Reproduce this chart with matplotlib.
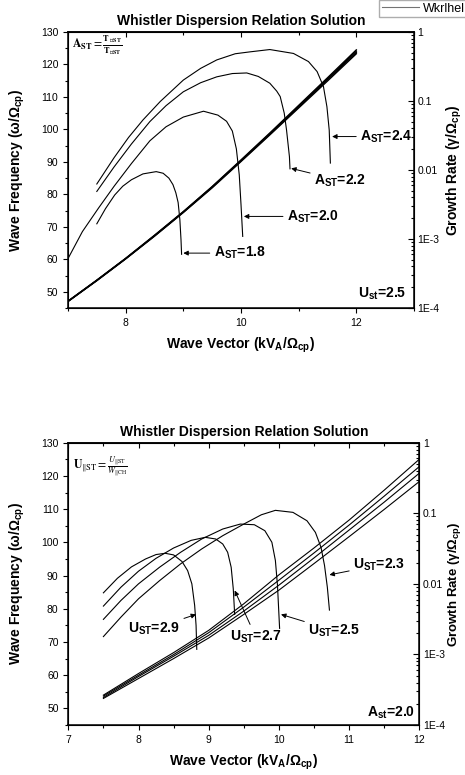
import matplotlib
matplotlib.use("Agg")
import matplotlib.pyplot as plt
from matplotlib.lines import Line2D
from matplotlib.ticker import MultipleLocator, LogLocator, FixedLocator, FixedFormatter, NullFormatter

plt.rcParams['font.family'] = ['Liberation Sans', 'DejaVu Sans']
plt.rcParams['mathtext.fontset'] = 'custom'
plt.rcParams['mathtext.rm'] = 'Liberation Sans'
plt.rcParams['mathtext.bf'] = 'Liberation Sans:bold'
plt.rcParams['mathtext.it'] = 'Liberation Sans:italic'

# ---------------- top panel data (A_ST scan, U_st = 2.5) ----------------
# wave frequency (left axis), four nearly identical curves
k_freq_top = [7.0, 7.5, 8.0, 8.5, 9.0, 9.5, 10.0, 10.5, 11.0, 11.5, 12.0]
w_top_18 = [47.0, 53.4, 60.1, 67.1, 74.4, 82.0, 90.1, 98.3, 106.6, 114.9, 123.3]
w_top_20 = [47.0, 53.5, 60.2, 67.2, 74.5, 82.2, 90.3, 98.5, 106.9, 115.3, 123.7]
w_top_22 = [47.1, 53.5, 60.2, 67.3, 74.6, 82.3, 90.4, 98.7, 107.1, 115.6, 124.1]
w_top_24 = [47.1, 53.6, 60.3, 67.4, 74.7, 82.4, 90.6, 98.9, 107.4, 115.9, 124.5]

# growth rate (right, log axis)
k_g24 = [7.5, 7.8, 8.05, 8.3, 8.6, 9.0, 9.3, 9.58, 9.9, 10.16, 10.5, 10.91, 11.17, 11.32, 11.43, 11.49, 11.53, 11.55]
g_g24 = [6.27e-3, 0.0151, 0.0296, 0.0531, 0.0984, 0.201, 0.297, 0.394, 0.484, 0.516, 0.557, 0.489,
         0.373, 0.267, 0.162, 0.0827, 0.0379, 0.0126]
k_g22 = [7.5, 7.8, 8.1, 8.42, 8.7, 9.0, 9.3, 9.58, 9.85, 10.1, 10.3, 10.5, 10.62, 10.68, 10.75, 10.79, 10.84, 10.85]
g_g22 = [4.89e-3, 0.0111, 0.0238, 0.0503, 0.0855, 0.136, 0.184, 0.224, 0.250, 0.255, 0.227, 0.181,
         0.139, 0.116, 0.0666, 0.0379, 0.0156, 0.0104]
k_g20 = [7.0, 7.25, 7.53, 7.8, 8.1, 8.42, 8.7, 9.0, 9.35, 9.6, 9.75, 9.85, 9.92, 9.97, 10.0, 10.03]
g_g20 = [5.19e-4, 1.28e-3, 2.81e-3, 5.82e-3, 0.0124, 0.0265, 0.0423, 0.0585, 0.0711, 0.0624, 0.0508,
         0.0367, 0.0202, 8.50e-3, 3.20e-3, 1.09e-3]
k_g18 = [7.5, 7.65, 7.81, 7.95, 8.1, 8.3, 8.53, 8.65, 8.75, 8.82, 8.87, 8.91, 8.94, 8.96, 8.97]
g_g18 = [1.66e-3, 2.75e-3, 4.34e-3, 5.82e-3, 7.22e-3, 8.78e-3, 9.47e-3, 8.97e-3, 7.62e-3, 6.14e-3,
         4.68e-3, 3.38e-3, 1.91e-3, 9.7e-4, 6.0e-4]

# ---------------- bottom panel data (U_ST scan, A_st = 2.0) ----------------
k_freq_bot = [7.5, 8.0, 8.5, 9.0, 9.5, 10.0, 10.5, 11.0, 11.5, 12.0]
w_bot_1 = [54.0, 60.5, 66.8, 73.5, 81.5, 90.2, 98.3, 106.7, 115.7, 125.0]
w_bot_2 = [53.7, 60.0, 66.2, 72.8, 80.5, 88.6, 96.8, 105.2, 113.9, 122.8]
w_bot_3 = [53.3, 59.6, 65.7, 72.0, 79.3, 87.1, 95.3, 103.7, 112.1, 120.8]
w_bot_4 = [53.0, 59.0, 65.0, 71.2, 78.3, 85.6, 93.6, 101.7, 109.9, 118.3]

k_u29 = [7.5, 7.7, 7.9, 8.1, 8.25, 8.38, 8.5, 8.62, 8.7, 8.76, 8.8, 8.82, 8.83]
g_u29 = [7.46e-3, 0.0120, 0.0174, 0.0225, 0.0260, 0.0271, 0.0257, 0.0207, 0.0154, 0.0100,
         4.94e-3, 2.58e-3, 1.18e-3]
k_u27 = [7.5, 7.75, 8.0, 8.25, 8.5, 8.75, 8.95, 9.1, 9.2, 9.27, 9.32, 9.35, 9.37]
g_u27 = [4.84e-3, 8.97e-3, 0.0151, 0.0230, 0.0322, 0.0413, 0.0456, 0.0432, 0.0367, 0.0280,
         0.0172, 8.50e-3, 3.69e-3]
k_u25 = [7.5, 7.75, 8.0, 8.3, 8.6, 8.9, 9.2, 9.45, 9.65, 9.8, 9.9, 9.95, 9.98, 10.01]
g_u25 = [3.14e-3, 5.82e-3, 0.0100, 0.0172, 0.0280, 0.0432, 0.0598, 0.0703, 0.0688, 0.0566,
         0.0388, 0.0214, 9.47e-3, 2.34e-3]
k_u23 = [7.5, 7.75, 8.0, 8.3, 8.6, 8.9, 9.2, 9.5, 9.75, 9.95, 10.2, 10.4, 10.52, 10.6, 10.65, 10.69, 10.72]
g_u23 = [1.79e-3, 3.38e-3, 6.14e-3, 0.0111, 0.0192, 0.0312, 0.0481, 0.0703, 0.0952, 0.110,
         0.103, 0.0783, 0.0536, 0.0329, 0.0182, 8.97e-3, 4.25e-3]

right_ticks = [1e-4, 1e-3, 1e-2, 1e-1, 1]
right_labels = ['1E-4', '1E-3', '0.01', '0.1', '1']

fig = plt.figure(figsize=(4.65, 7.75), dpi=100)
ax1 = fig.add_axes([0.1462, 0.6026, 0.7441, 0.3561])
ax3 = fig.add_axes([0.1469, 0.0645, 0.7548, 0.3643])

lw = 0.8
lab = dict(fontsize=10, fontweight='bold')
ann_arrow = dict(arrowstyle='-|>', lw=0.7, color='k', mutation_scale=7, shrinkA=1, shrinkB=0)


def style(ax, xlim, xmaj, xmin, rpad, rsize):
    ax.set_xlim(*xlim)
    ax.set_ylim(45, 130)
    ax.xaxis.set_major_locator(MultipleLocator(xmaj))
    ax.xaxis.set_minor_locator(MultipleLocator(xmin))
    ax.yaxis.set_major_locator(MultipleLocator(10))
    ax.yaxis.set_minor_locator(MultipleLocator(5))
    ax.tick_params(which='both', direction='out', labelsize=7.5, width=0.8, top=False, right=False)
    ax.tick_params(which='major', length=3.5)
    ax.tick_params(which='minor', length=2)
    for s in ax.spines.values():
        s.set_linewidth(1.1)
    sec = ax.secondary_xaxis('top')
    sec.xaxis.set_major_locator(MultipleLocator(xmaj))
    sec.xaxis.set_minor_locator(MultipleLocator(xmin))
    sec.tick_params(which='both', direction='in', labeltop=False, width=0.8)
    sec.tick_params(which='major', length=3.5)
    sec.tick_params(which='minor', length=2)
    sec.spines['top'].set_linewidth(1.1)
    ax.set_xlabel('Wave Vector (kV$_{\\mathbf{A}}$/Ω$_{\\mathbf{cp}}$)', labelpad=6, **lab)
    ax.set_ylabel('Wave Frequency (ω/Ω$_{\\mathbf{cp}}$)', labelpad=10, **lab)
    ax.set_title('Whistler Dispersion Relation Solution', pad=5, **lab)
    tw = ax.twinx()
    tw.set_yscale('log')
    tw.set_ylim(1e-4, 1)
    tw.yaxis.set_major_locator(FixedLocator(right_ticks))
    tw.yaxis.set_major_formatter(FixedFormatter(right_labels))
    tw.yaxis.set_minor_locator(LogLocator(base=10, subs=range(2, 10), numticks=20))
    tw.yaxis.set_minor_formatter(NullFormatter())
    tw.tick_params(which='both', direction='in', labelsize=7.5, width=0.8, pad=2.5)
    tw.tick_params(which='major', length=4)
    tw.tick_params(which='minor', length=2)
    tw.set_ylabel('Growth Rate (γ/Ω$_{\\mathbf{cp}}$)', labelpad=rpad, fontsize=rsize, fontweight='bold')
    return tw


# ---------------- top panel ----------------
ax2 = style(ax1, (7, 13), 2, 1, 4, 10)
for w in [w_top_18, w_top_20, w_top_22, w_top_24]:
    ax1.plot(k_freq_top, w, color='k', lw=1.0)
for k, g in [(k_g24, g_g24), (k_g22, g_g22), (k_g20, g_g20), (k_g18, g_g18)]:
    ax2.plot(k, g, color='k', lw=lw)

ax1.annotate('A$_{\\mathbf{ST}}$=2.4', xy=(11.58, 97.8), xytext=(12.07, 97.8), ha='left', va='center',
             arrowprops=ann_arrow, **lab)
ax1.annotate('A$_{\\mathbf{ST}}$=2.2', xy=(10.87, 88.0), xytext=(11.27, 84.3), ha='left', va='center',
             arrowprops=ann_arrow, **lab)
ax1.annotate('A$_{\\mathbf{ST}}$=2.0', xy=(10.05, 73.2), xytext=(10.8, 73.2), ha='left', va='center',
             arrowprops=ann_arrow, **lab)
ax1.annotate('A$_{\\mathbf{ST}}$=1.8', xy=(9.0, 61.9), xytext=(9.53, 61.9), ha='left', va='center',
             arrowprops=ann_arrow, **lab)
ax1.text(12.86, 49.5, 'U$_{\\mathbf{st}}$=2.5', ha='right', va='center', **lab)
ax1.text(0.012, 0.955,
         r'$\mathbf{A_{ST}} = \frac{\mathbf{T_{\perp ST}}}{\mathbf{T_{\| ST}}}$',
         transform=ax1.transAxes, ha='left', va='center', fontsize=8.5, math_fontfamily='stix')

# ---------------- bottom panel ----------------
ax4 = style(ax3, (7, 12), 1, 0.5, 1.0, 9.5)
for w in [w_bot_1, w_bot_2, w_bot_3, w_bot_4]:
    ax3.plot(k_freq_bot, w, color='k', lw=lw)
for k, g in [(k_u29, g_u29), (k_u27, g_u27), (k_u25, g_u25), (k_u23, g_u23)]:
    ax4.plot(k, g, color='k', lw=lw)

ax3.annotate('U$_{\\mathbf{ST}}$=2.3', xy=(10.72, 90.2), xytext=(11.06, 93.2), ha='left', va='center',
             arrowprops=ann_arrow, **lab)
ax3.annotate('U$_{\\mathbf{ST}}$=2.9', xy=(8.82, 78.3), xytext=(7.85, 74.1), ha='left', va='center',
             arrowprops=ann_arrow, **lab)
ax3.annotate('U$_{\\mathbf{ST}}$=2.7', xy=(9.37, 85.5), xytext=(9.3, 71.6), ha='left', va='center',
             arrowprops=ann_arrow, **lab)
ax3.annotate('U$_{\\mathbf{ST}}$=2.5', xy=(10.03, 78.3), xytext=(10.42, 73.4), ha='left', va='center',
             arrowprops=ann_arrow, **lab)
ax3.text(11.94, 48.6, 'A$_{\\mathbf{st}}$=2.0', ha='right', va='center', **lab)
ax3.text(0.013, 0.915,
         r'$\mathbf{U}_{\|\mathrm{ST}} = \frac{U_{\|\mathrm{ST}}}{W_{\|\mathrm{CH}}}$',
         transform=ax3.transAxes, ha='left', va='center', fontsize=8.5, math_fontfamily='stix')

# stray legend box at the top right corner
fig.legend(handles=[Line2D([], [], color='0.45', lw=0.8)], labels=['Wkrlhel'],
           loc='upper right', bbox_to_anchor=(1.005, 1.0), fontsize=9, frameon=True,
           fancybox=False, edgecolor='0.6', handlelength=3.0, borderpad=0.2,
           handletextpad=0.3, borderaxespad=0.0)

fig.savefig('out.png', dpi=100)
